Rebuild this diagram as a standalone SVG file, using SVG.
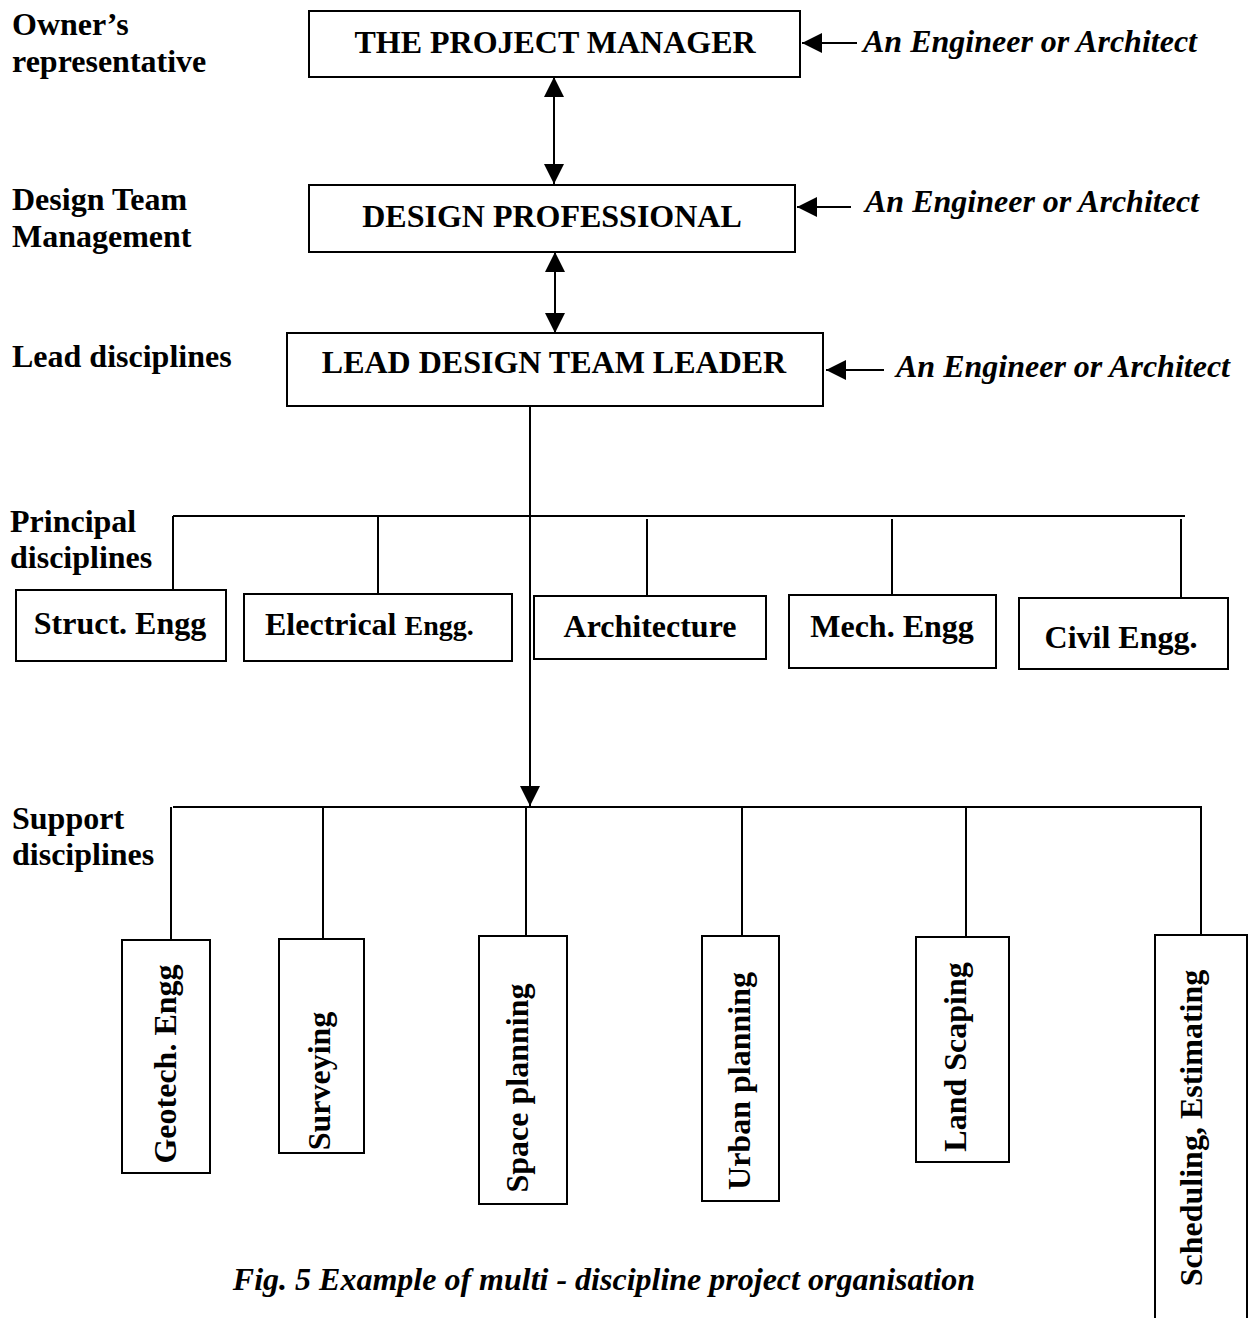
<svg xmlns="http://www.w3.org/2000/svg" width="1249" height="1318" viewBox="0 0 1249 1318">
<style>
.t{font-family:"Liberation Serif","Times New Roman",serif;font-weight:bold;font-size:32px;fill:#000}
.i{font-style:italic}
.m{text-anchor:middle}
.box{fill:#fff;stroke:#000;stroke-width:2}
.ln{stroke:#000;stroke-width:2;fill:none}
.ar{stroke:#000;stroke-width:2;fill:none;marker-end:url(#ah)}
.dar{stroke:#000;stroke-width:2;fill:none;marker-start:url(#ah);marker-end:url(#ah)}
</style>
<defs>
<marker id="ah" markerUnits="userSpaceOnUse" markerWidth="20" markerHeight="20" refX="20" refY="10" orient="auto-start-reverse" viewBox="0 0 20 20">
<path d="M0,0 L20,10 L0,20 z" fill="#000"/>
</marker>
</defs>
<rect width="1249" height="1318" fill="#fff"/>

<g id="labels">
<text class="t" x="12" y="35">Owner’s</text>
<text class="t" x="12" y="72">representative</text>
<text class="t" x="12" y="210">Design Team</text>
<text class="t" x="12" y="247">Management</text>
<text class="t" x="12" y="367">Lead disciplines</text>
<text class="t" x="10" y="532">Principal</text>
<text class="t" x="10" y="568">disciplines</text>
<text class="t" x="12" y="829">Support</text>
<text class="t" x="12" y="865">disciplines</text>
<text class="t i" x="863" y="52">An Engineer or Architect</text>
<text class="t i" x="865" y="212">An Engineer or Architect</text>
<text class="t i" x="896" y="377">An Engineer or Architect</text>
<text class="t i m" x="604" y="1290">Fig. 5 Example of multi - discipline project organisation</text>
</g>

<g id="connectors">
<line class="dar" x1="554" y1="77" x2="554" y2="184"/>
<line class="dar" x1="555" y1="252" x2="555" y2="333"/>
<line class="ar" x1="857" y1="43" x2="802" y2="43"/>
<line class="ar" x1="851" y1="207" x2="797" y2="207"/>
<line class="ar" x1="884" y1="370" x2="826" y2="370"/>
<line class="ar" x1="530" y1="406" x2="530" y2="806"/>
<line class="ln" x1="173" y1="516" x2="1185" y2="516"/>
<line class="ln" x1="173" y1="516" x2="173" y2="594"/>
<line class="ln" x1="378" y1="516" x2="378" y2="594"/>
<line class="ln" x1="647" y1="519" x2="647" y2="600"/>
<line class="ln" x1="892" y1="519" x2="892" y2="600"/>
<line class="ln" x1="1181" y1="519" x2="1181" y2="600"/>
<line class="ln" x1="173" y1="807" x2="1202" y2="807"/>
<line class="ln" x1="171" y1="807" x2="171" y2="940"/>
<line class="ln" x1="323" y1="807" x2="323" y2="939"/>
<line class="ln" x1="526" y1="807" x2="526" y2="937"/>
<line class="ln" x1="742" y1="807" x2="742" y2="937"/>
<line class="ln" x1="966" y1="807" x2="966" y2="937"/>
<line class="ln" x1="1201" y1="807" x2="1201" y2="935"/>
</g>

<g id="pm"><rect class="box" x="309" y="11" width="491" height="66"/><text class="t m" x="555" y="53">THE PROJECT MANAGER</text></g>
<g id="dp"><rect class="box" x="309" y="185" width="486" height="67"/><text class="t m" x="552" y="227">DESIGN PROFESSIONAL</text></g>
<g id="ldtl"><rect class="box" x="287" y="333" width="536" height="73"/><text class="t m" x="554" y="373">LEAD DESIGN TEAM LEADER</text></g>

<g id="struct"><rect class="box" x="16" y="590" width="210" height="71"/><text class="t m" x="120" y="634">Struct. Engg</text></g>
<g id="elec"><rect class="box" x="244" y="594" width="268" height="67"/><text class="t" x="265" y="635">Electrical <tspan font-size="28">Engg.</tspan></text></g>
<g id="arch"><rect class="box" x="534" y="596" width="232" height="63"/><text class="t m" x="650" y="637">Architecture</text></g>
<g id="mech"><rect class="box" x="789" y="595" width="207" height="73"/><text class="t m" x="892" y="637">Mech. Engg</text></g>
<g id="civil"><rect class="box" x="1019" y="598" width="209" height="71"/><text class="t m" x="1121" y="648">Civil Engg.</text></g>

<g id="geotech"><rect class="box" x="122" y="940" width="88" height="233"/><text class="t m" transform="translate(176,1064) rotate(-90)">Geotech. Engg</text></g>
<g id="survey"><rect class="box" x="279" y="939" width="85" height="214"/><text class="t m" font-size="28" transform="translate(330,1081) rotate(-90)">Surveying</text></g>
<g id="space"><rect class="box" x="479" y="936" width="88" height="268"/><text class="t m" transform="translate(528,1088) rotate(-90)">Space planning</text></g>
<g id="urban"><rect class="box" x="702" y="936" width="77" height="265"/><text class="t m" transform="translate(750,1081) rotate(-90)">Urban planning</text></g>
<g id="land"><rect class="box" x="916" y="937" width="93" height="225"/><text class="t m" transform="translate(966,1057) rotate(-90)">Land Scaping</text></g>
<g id="sched"><rect class="box" x="1155" y="935" width="92" height="400"/><text class="t m" transform="translate(1202,1128) rotate(-90)">Scheduling,  Estimating</text></g>
</svg>
